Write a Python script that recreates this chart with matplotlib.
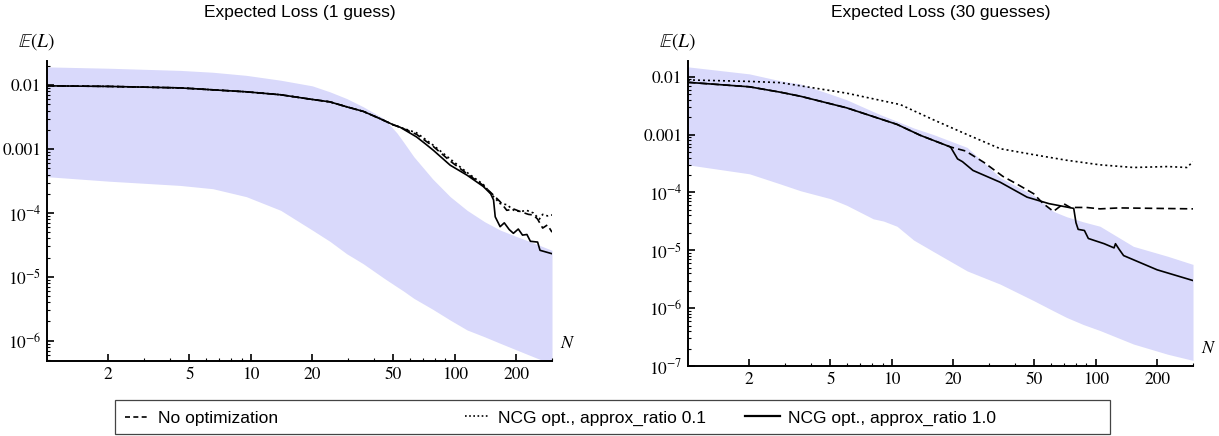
import matplotlib
matplotlib.use("Agg")
import matplotlib.pyplot as plt
from matplotlib.lines import Line2D
from matplotlib.patches import Rectangle
from matplotlib.ticker import FixedLocator, NullFormatter

plt.rcParams['mathtext.fontset'] = 'stix'

# ---------------- data: left panel (1 guess) ----------------
L_band_N = [1, 2, 4.5, 6.5, 9.5, 14, 20, 24.4, 29.5, 35.6, 45, 52, 56, 63, 78, 95, 115, 140, 167, 200, 243, 300]
L_band_hi = [0.0194, 0.0185, 0.0171, 0.016, 0.0143, 0.012, 0.0098, 0.0079, 0.0062, 0.0046, 0.0030, 0.0018,
             0.0013, 7.6e-4, 3.4e-4, 1.8e-4, 1.1e-4, 7.3e-5, 5.4e-5, 4.3e-5, 3.4e-5, 2.6e-5]
L_band_lo = [3.7e-4, 3.15e-4, 2.7e-4, 2.4e-4, 1.8e-4, 1.1e-4, 5.4e-5, 3.6e-5, 2.3e-5, 1.6e-5, 9.5e-6, 7.0e-6,
             6.0e-6, 4.6e-6, 3.1e-6, 2.1e-6, 1.47e-6, 1.15e-6, 9.1e-7, 7.2e-7, 5.6e-7, 4.3e-7]

L_common_N = [1, 2, 4.5, 9.5, 14, 20, 24.4, 29.5, 35.6, 43, 50, 54]
L_common = [0.0098, 0.0096, 0.0091, 0.0079, 0.0071, 0.0060, 0.0055, 0.0046, 0.0039, 0.0030, 0.0024, 0.0022]

L_solid_N = [65, 72, 78.5, 95, 115, 138, 150, 155, 158, 167, 175, 185, 194, 205, 215, 226, 235, 255, 262, 300]
L_solid = [1.55e-3, 1.2e-3, 9.6e-4, 5.6e-4, 3.9e-4, 2.6e-4, 2.0e-4, 1.6e-4, 8.7e-5, 6.1e-5, 7.0e-5,
           5.5e-5, 4.8e-5, 5.6e-5, 4.5e-5, 4.6e-5, 3.6e-5, 3.5e-5, 2.6e-5, 2.3e-5]
L_dash_N = [65, 78.5, 95, 115, 138, 155, 167, 180, 195, 210, 230, 243, 255, 270, 285, 300]
L_dash = [1.7e-3, 1.1e-3, 6.5e-4, 4.1e-4, 2.7e-4, 1.9e-4, 1.5e-4, 1.1e-4, 1.15e-4, 1.05e-4,
          9.5e-5, 9.3e-5, 8.0e-5, 5.8e-5, 6.5e-5, 5.0e-5]
L_dot_N = [65, 78.5, 95, 115, 138, 155, 167, 180, 195, 210, 225, 243, 260, 270, 285, 300]
L_dot = [1.8e-3, 1.15e-3, 7.0e-4, 4.3e-4, 2.8e-4, 1.8e-4, 1.4e-4, 1.35e-4, 1.1e-4, 1.05e-4,
         1.1e-4, 1.0e-4, 8.0e-5, 9.5e-5, 9.0e-5, 9.3e-5]

# ---------------- data: right panel (30 guesses) ----------------
R_band_N = [1, 2, 2.84, 3.56, 5, 6, 8.1, 9.1, 10.6, 12.8, 16, 23.4, 34, 49.6, 62, 72, 87, 105, 153, 225, 300]
R_band_hi = [0.0148, 0.0112, 0.0085, 0.0075, 0.0050, 0.0040, 0.0025, 0.0021, 0.0017, 0.0013, 0.0010,
             6.0e-4, 1.8e-4, 8.9e-5, 4.7e-5, 3.8e-5, 3.1e-5, 2.6e-5, 1.17e-5, 7.9e-6, 5.7e-6]
R_band_lo = [3.0e-4, 2.1e-4, 1.4e-4, 1.07e-4, 7.8e-5, 6.0e-5, 3.5e-5, 3.2e-5, 2.6e-5, 1.5e-5, 9.5e-6,
             4.4e-6, 2.6e-6, 1.35e-6, 9.0e-7, 6.9e-7, 5.2e-7, 4.1e-7, 2.4e-7, 1.6e-7, 1.25e-7]

R_common_N = [1, 2, 2.84, 3.56, 6, 10.6, 13.8, 19.4]
R_common = [0.0080, 0.0067, 0.0054, 0.0046, 0.0029, 0.0015, 9.7e-4, 6.1e-4]

R_solid_N = [21, 22.2, 25, 34, 46, 59, 78, 80, 82, 88, 92, 110, 123, 125, 130, 137, 200, 300]
R_solid = [3.8e-4, 3.4e-4, 2.4e-4, 1.5e-4, 8.3e-5, 6.4e-5, 5.3e-5, 3.0e-5, 2.3e-5, 2.2e-5, 1.6e-5,
           1.3e-5, 1.1e-5, 1.3e-5, 1.05e-5, 8.1e-6, 4.6e-6, 3.0e-6]
R_dash_N = [23, 28.3, 35, 41, 49.6, 55, 62, 69.6, 75, 90, 105, 130, 200, 300]
R_dash = [5.2e-4, 3.3e-4, 1.9e-4, 1.4e-4, 9.5e-5, 6.5e-5, 4.7e-5, 6.4e-5, 5.5e-5, 5.5e-5,
          5.2e-5, 5.4e-5, 5.3e-5, 5.2e-5]
R_dot_N = [1, 2, 2.84, 6, 11, 16, 23.4, 34, 49.5, 72, 105, 153, 225, 280, 300]
R_dot = [0.0088, 0.0083, 0.0079, 0.0052, 0.0033, 0.0018, 1.0e-3, 5.7e-4, 4.5e-4, 3.6e-4,
         3.0e-4, 2.7e-4, 2.8e-4, 2.7e-4, 3.4e-4]

x_ticks = [2, 5, 10, 20, 50, 100, 200]
L_yticks = [1e-2, 1e-3, 1e-4, 1e-5, 1e-6]
L_ylabels = ["0.01", "0.001", r"$10^{-4}$", r"$10^{-5}$", r"$10^{-6}$"]
R_yticks = [1e-2, 1e-3, 1e-4, 1e-5, 1e-6, 1e-7]
R_ylabels = ["0.01", "0.001", r"$10^{-4}$", r"$10^{-5}$", r"$10^{-6}$", r"$10^{-7}$"]

titles = ["Expected Loss (1 guess)", "Expected Loss (30 guesses)"]
legend_labels = ["No optimization", "NCG opt., approx_ratio 0.1", "NCG opt., approx_ratio 1.0"]

BAND = "#d9d9fb"
W, H = 1219, 436
fig = plt.figure(figsize=(W / 100, H / 100), dpi=100)

axL = fig.add_axes([47 / W, (H - 361) / H, (552 - 47) / W, (361 - 61) / H])
axR = fig.add_axes([688 / W, (H - 366) / H, (1193 - 688) / W, (366 - 61) / H])

DASH = (0, (4.5, 2.5))
DOT = (0, (1.2, 1.8))
LW = 1.2


def style(ax, ylim, yticks, ylabels):
    ax.set_xscale("log")
    ax.set_yscale("log")
    ax.set_xlim(1, 300)
    ax.set_ylim(*ylim)
    for sp in ["top", "right"]:
        ax.spines[sp].set_visible(False)
    for sp in ["left", "bottom"]:
        ax.spines[sp].set_linewidth(1.4)
    ax.xaxis.set_major_locator(FixedLocator(x_ticks))
    ax.set_xticklabels([str(t) for t in x_ticks])
    ax.xaxis.set_minor_locator(FixedLocator([3, 4, 6, 7, 8, 9, 30, 40, 60, 70, 80, 90, 300]))
    ax.xaxis.set_minor_formatter(NullFormatter())
    ax.set_yticks(yticks)
    ax.set_yticklabels(ylabels)
    minor = []
    for dec in [1e-8, 1e-7, 1e-6, 1e-5, 1e-4, 1e-3, 1e-2]:
        minor += [k * dec for k in range(2, 10)]
    ax.yaxis.set_minor_locator(FixedLocator(minor))
    ax.yaxis.set_minor_formatter(NullFormatter())
    ax.tick_params(which="major", direction="in", length=5, width=1.2, labelsize=12.5, pad=4)
    ax.tick_params(which="minor", direction="in", length=2.5, width=0.8)
    for lab in ax.get_xticklabels() + ax.get_yticklabels():
        lab.set_fontfamily("STIXGeneral")
    ax.text(-0.02, 1.03, r"$\mathbb{E}(L)$", transform=ax.transAxes, fontsize=14,
            ha="center", va="bottom")
    ax.text(1.015, 0.06, r"$N$", transform=ax.transAxes, fontsize=13, ha="left", va="center")


# left panel
axL.fill_between(L_band_N, L_band_lo, L_band_hi, color=BAND, lw=0)
axL.plot(L_common_N + L_solid_N, L_common + L_solid, color="black", lw=LW)
axL.plot(L_common_N + L_dash_N, L_common + L_dash, color="black", lw=LW, ls=DASH)
axL.plot(L_common_N + L_dot_N, L_common + L_dot, color="black", lw=LW, ls=DOT)
style(axL, (4.8e-7, 0.024), L_yticks, L_ylabels)

# right panel
axR.fill_between(R_band_N, R_band_lo, R_band_hi, color=BAND, lw=0)
axR.plot(R_common_N + R_solid_N, R_common + R_solid, color="black", lw=LW)
axR.plot(R_common_N + R_dash_N, R_common + R_dash, color="black", lw=LW, ls=DASH)
axR.plot(R_dot_N, R_dot, color="black", lw=LW, ls=DOT)
style(axR, (1e-7, 0.0187), R_yticks, R_ylabels)

# titles (centred over each axes)
fig.text((47 + 552) / 2 / W, 1 - 12 / H, titles[0], ha="center", va="center",
         family="Liberation Sans", fontsize=12.5)
fig.text((688 + 1193) / 2 / W, 1 - 12 / H, titles[1], ha="center", va="center",
         family="Liberation Sans", fontsize=12.5)

# legend: frame + three entries at their own positions
fig.patches.append(Rectangle((115 / W, 2 / H), (1110 - 115) / W, (435 - 401) / H,
                             transform=fig.transFigure, fill=False, ec="#444444", lw=0.9))
handles = [Line2D([], [], color="black", lw=LW, ls=(0, (3, 2))),
           Line2D([], [], color="black", lw=LW, ls=(0, (1, 1.5))),
           Line2D([], [], color="black", lw=1.6)]
hx = [125, 465, 745]
hlen = [1.45, 1.45, 2.0]
for h, lab, x0, hl in zip(handles, legend_labels, hx, hlen):
    fig.legend([h], [lab], loc="center left", bbox_to_anchor=(x0 / W, 1 - 418 / H),
               frameon=False, borderaxespad=0, borderpad=0, handlelength=hl,
               handletextpad=0.45, prop={"family": "Liberation Sans", "size": 12.5})

fig.savefig("out.png", dpi=100)
